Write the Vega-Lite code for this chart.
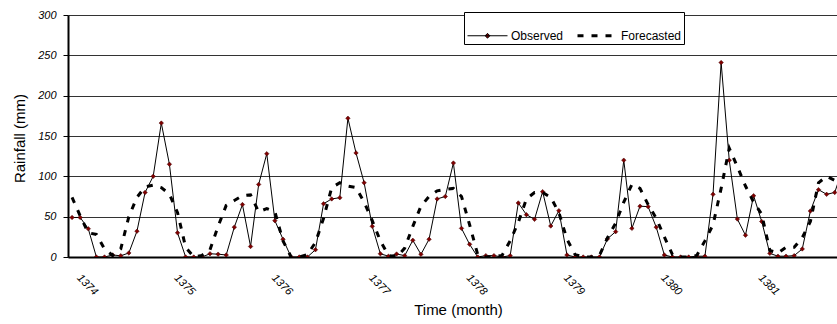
{
  "$schema": "https://vega.github.io/schema/vega-lite/v6.json",
  "width": 769,
  "height": 242,
  "autosize": {"type": "none"},
  "padding": {"left": 68, "top": 15, "right": 0, "bottom": 67},
  "background": "white",
  "config": {"view": {"stroke": null}, "font": "Liberation Sans"},
  "data": {"values": [
    {"m":0,"Observed":49,"Forecasted":74},
    {"m":1,"Observed":49,"Forecasted":51},
    {"m":2,"Observed":35,"Forecasted":30},
    {"m":3,"Observed":0,"Forecasted":28},
    {"m":4,"Observed":0,"Forecasted":10},
    {"m":5,"Observed":2.5,"Forecasted":2},
    {"m":6,"Observed":1.5,"Forecasted":10},
    {"m":7,"Observed":5,"Forecasted":50},
    {"m":8,"Observed":32,"Forecasted":74},
    {"m":9,"Observed":80,"Forecasted":87},
    {"m":10,"Observed":100,"Forecasted":89},
    {"m":11,"Observed":166,"Forecasted":86},
    {"m":12,"Observed":115,"Forecasted":78},
    {"m":13,"Observed":30,"Forecasted":55},
    {"m":14,"Observed":0,"Forecasted":12},
    {"m":15,"Observed":0,"Forecasted":0},
    {"m":16,"Observed":0,"Forecasted":2},
    {"m":17,"Observed":4,"Forecasted":9},
    {"m":18,"Observed":3.5,"Forecasted":38},
    {"m":19,"Observed":2.5,"Forecasted":64},
    {"m":20,"Observed":37,"Forecasted":70},
    {"m":21,"Observed":65,"Forecasted":76},
    {"m":22,"Observed":13,"Forecasted":77},
    {"m":23,"Observed":90,"Forecasted":56},
    {"m":24,"Observed":128,"Forecasted":60},
    {"m":25,"Observed":45,"Forecasted":56},
    {"m":26,"Observed":22,"Forecasted":20},
    {"m":27,"Observed":0,"Forecasted":0},
    {"m":28,"Observed":0,"Forecasted":0},
    {"m":29,"Observed":0,"Forecasted":3},
    {"m":30,"Observed":9,"Forecasted":18},
    {"m":31,"Observed":66,"Forecasted":48},
    {"m":32,"Observed":72,"Forecasted":86},
    {"m":33,"Observed":73.5,"Forecasted":92},
    {"m":34,"Observed":172,"Forecasted":88},
    {"m":35,"Observed":129,"Forecasted":86},
    {"m":36,"Observed":92,"Forecasted":68},
    {"m":37,"Observed":38,"Forecasted":45},
    {"m":38,"Observed":4,"Forecasted":20},
    {"m":39,"Observed":1,"Forecasted":2},
    {"m":40,"Observed":3.7,"Forecasted":0},
    {"m":41,"Observed":1.7,"Forecasted":11},
    {"m":42,"Observed":20.7,"Forecasted":38},
    {"m":43,"Observed":3.3,"Forecasted":63},
    {"m":44,"Observed":22,"Forecasted":75},
    {"m":45,"Observed":72,"Forecasted":82},
    {"m":46,"Observed":75,"Forecasted":84},
    {"m":47,"Observed":116.5,"Forecasted":85},
    {"m":48,"Observed":35.5,"Forecasted":75},
    {"m":49,"Observed":15.7,"Forecasted":40},
    {"m":50,"Observed":0,"Forecasted":3},
    {"m":51,"Observed":1.7,"Forecasted":0},
    {"m":52,"Observed":1.7,"Forecasted":0},
    {"m":53,"Observed":0,"Forecasted":2},
    {"m":54,"Observed":1.7,"Forecasted":20},
    {"m":55,"Observed":67,"Forecasted":43},
    {"m":56,"Observed":52.5,"Forecasted":72},
    {"m":57,"Observed":46.7,"Forecasted":80},
    {"m":58,"Observed":81,"Forecasted":80},
    {"m":59,"Observed":38.4,"Forecasted":74},
    {"m":60,"Observed":57.4,"Forecasted":55},
    {"m":61,"Observed":2.5,"Forecasted":22},
    {"m":62,"Observed":0,"Forecasted":3},
    {"m":63,"Observed":0,"Forecasted":0},
    {"m":64,"Observed":0,"Forecasted":0},
    {"m":65,"Observed":0,"Forecasted":2},
    {"m":66,"Observed":22.7,"Forecasted":24},
    {"m":67,"Observed":31.4,"Forecasted":42},
    {"m":68,"Observed":120,"Forecasted":68},
    {"m":69,"Observed":35.5,"Forecasted":90},
    {"m":70,"Observed":63,"Forecasted":85},
    {"m":71,"Observed":62.4,"Forecasted":65},
    {"m":72,"Observed":37,"Forecasted":48},
    {"m":73,"Observed":2.5,"Forecasted":25},
    {"m":74,"Observed":0,"Forecasted":3},
    {"m":75,"Observed":0,"Forecasted":0},
    {"m":76,"Observed":0,"Forecasted":0},
    {"m":77,"Observed":1,"Forecasted":2},
    {"m":78,"Observed":1,"Forecasted":20},
    {"m":79,"Observed":77.7,"Forecasted":40},
    {"m":80,"Observed":241,"Forecasted":85},
    {"m":81,"Observed":120,"Forecasted":135},
    {"m":82,"Observed":47,"Forecasted":112},
    {"m":83,"Observed":27,"Forecasted":88},
    {"m":84,"Observed":76,"Forecasted":68},
    {"m":85,"Observed":44,"Forecasted":53},
    {"m":86,"Observed":4.5,"Forecasted":8},
    {"m":87,"Observed":1,"Forecasted":5},
    {"m":88,"Observed":1,"Forecasted":12},
    {"m":89,"Observed":1.7,"Forecasted":12},
    {"m":90,"Observed":10,"Forecasted":24},
    {"m":91,"Observed":57,"Forecasted":44},
    {"m":92,"Observed":83.5,"Forecasted":92},
    {"m":93,"Observed":77.7,"Forecasted":100},
    {"m":94,"Observed":80,"Forecasted":95},
    {"m":95,"Observed":110,"Forecasted":85}
  ]},
  "transform": [{"fold": ["Observed", "Forecasted"], "as": ["series", "rain"]}],
  "encoding": {
    "x": {
      "field": "m", "type": "quantitative",
      "scale": {"domain": [-0.5, 94.28], "nice": false, "zero": false},
      "axis": {
        "values": [0, 12, 24, 36, 48, 60, 72, 84],
        "labelExpr": "'' + (1374 + datum.value / 12)",
        "labelAngle": 45, "labelAlign": "left", "labelBaseline": "middle",
        "labelPadding": 19, "labelOffset": 6,
        "labelFontStyle": "italic", "labelFontSize": 11, "labelColor": "black",
        "ticks": false, "grid": false,
        "domainColor": "black", "domainWidth": 2,
        "title": "Time (month)", "titleFontSize": 15, "titleFontWeight": "normal", "titleColor": "black",
        "titleX": 390, "titleY": 57, "titleBaseline": "alphabetic", "titleAlign": "center"
      }
    },
    "y": {
      "field": "rain", "type": "quantitative",
      "scale": {"domain": [0, 300], "nice": false},
      "axis": {
        "values": [0, 50, 100, 150, 200, 250, 300],
        "grid": true, "gridColor": "#333", "gridWidth": 1,
        "domainColor": "black", "domainWidth": 2,
        "tickSize": 5, "tickColor": "black", "labelPadding": 7,
        "labelFontStyle": "italic", "labelFontSize": 11, "labelColor": "black",
        "title": "Rainfall (mm)", "titleFontSize": 15, "titleFontWeight": "normal", "titleColor": "black",
        "titleAngle": -90, "titleX": -44, "titleY": 123, "titleBaseline": "alphabetic", "titleAlign": "center"
      }
    }
  },
  "layer": [
    {
      "transform": [{"filter": "datum.series === 'Observed'"}],
      "mark": {"type": "line", "strokeWidth": 1, "clip": true},
      "encoding": {
        "color": {
          "field": "series", "type": "nominal",
          "scale": {"domain": ["Observed", "Forecasted"], "range": ["black", "black"]},
          "legend": {
            "title": null, "orient": "none", "legendX": 396, "legendY": -3, "direction": "horizontal",
            "fillColor": "white", "strokeColor": "black", "padding": 2, "columnPadding": 7,
            "labelFontSize": 12, "labelColor": "black", "labelOffset": 2,
            "symbolType": "stroke", "symbolSize": 1600, "symbolStrokeWidth": 1,
            "encode": {
              "symbols": {"update": {
                "shape": {"signal": "(datum.value === 'Observed' ? 'M-1,0H1M0,-0.12L0.12,0L0,0.12L-0.12,0Z' : 'M-1,0H1.05')"},
                "size": {"value": 1600},
                "strokeDash": {"signal": "(datum.value === 'Observed' ? null : [6,8])"},
                "strokeWidth": {"signal": "(datum.value === 'Observed' ? 1 : 3)"},
                "fill": {"signal": "(datum.value === 'Observed' ? '#800000' : 'transparent')"},
                "stroke": {"value": "black"},
                "opacity": {"value": 1}
              }}
            }
          }
        }
      }
    },
    {
      "transform": [{"filter": "datum.series === 'Observed'"}],
      "mark": {"type": "point", "shape": "diamond", "filled": true, "size": 20, "fill": "#800000", "stroke": "#400000", "strokeWidth": 0.5, "opacity": 1, "clip": true}
    },
    {
      "transform": [{"filter": "datum.series === 'Forecasted'"}],
      "mark": {"type": "line", "strokeWidth": 3, "strokeDash": [6, 8], "clip": true},
      "encoding": {
        "color": {"field": "series", "type": "nominal"}
      }
    }
  ]
}
